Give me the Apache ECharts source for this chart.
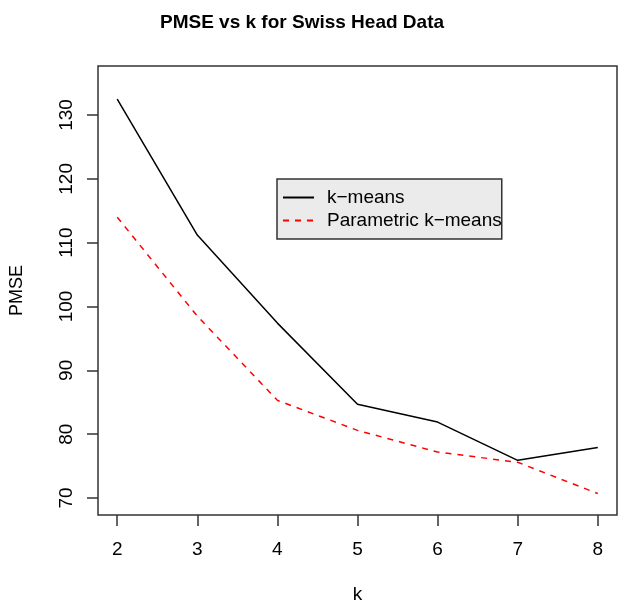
<!DOCTYPE html>
<html>
<head>
<meta charset="utf-8">
<script src="https://cdn.jsdelivr.net/npm/echarts@6/dist/echarts.min.js"></script>
<style>html,body{margin:0;padding:0;background:#fff}#c{width:629px;height:610px}</style>
</head>
<body>
<div id="c"></div>
<script>
const kValues = [2, 3, 4, 5, 6, 7, 8];
const kmeans = [132.5, 111.2, 97.4, 84.7, 81.9, 75.9, 77.9];
const parametric = [114.0, 98.5, 85.3, 80.6, 77.2, 75.6, 70.7];
const xTicks = [2, 3, 4, 5, 6, 7, 8];
const yTicks = [70, 80, 90, 100, 110, 120, 130];

const FONT = '"Liberation Sans", Arial, Helvetica, sans-serif';
const chart = echarts.init(document.getElementById('c'));
chart.setOption({
  animation: false,
  title: {
    text: 'PMSE vs k for Swiss Head Data',
    left: 297, top: 8, textAlign: 'center',
    textStyle: {fontFamily: FONT, fontWeight: 'bold', fontSize: 19, color: '#000'}
  },
  legend: {
    orient: 'vertical', left: 277, top: 179,
    padding: [9, 0, 9, 5], itemGap: 4, itemWidth: 31, itemHeight: 17,
    backgroundColor: '#ebebeb', borderColor: '#333', borderWidth: 1.5,
    itemStyle: {opacity: 0},
    textStyle: {fontFamily: FONT, fontSize: 19, color: '#000', padding: [0, 0, 0, 8]},
    data: ['k−means', 'Parametric k−means']
  },
  grid: {left: 98, top: 66, right: 12, bottom: 95, show: true, borderColor: '#333', borderWidth: 1.5},
  xAxis: {
    type: 'value', min: 1.76, max: 8.24,
    name: 'k', nameLocation: 'middle', nameGap: 70,
    nameTextStyle: {fontFamily: FONT, fontSize: 19, color: '#000'},
    axisLine: {show: false},
    splitLine: {show: false},
    axisTick: {show: true, length: 11, lineStyle: {color: '#333', width: 1.5}, customValues: xTicks},
    axisLabel: {fontFamily: FONT, fontSize: 19, color: '#000', margin: 25, customValues: xTicks}
  },
  yAxis: {
    type: 'value', min: 67.34, max: 137.68,
    name: 'PMSE', nameLocation: 'middle', nameGap: 72,
    nameTextStyle: {fontFamily: FONT, fontSize: 18, color: '#000'},
    axisLine: {show: false},
    splitLine: {show: false},
    axisTick: {show: true, length: 11, lineStyle: {color: '#333', width: 1.5}, customValues: yTicks},
    axisLabel: {fontFamily: FONT, fontSize: 19, color: '#000', margin: 22, rotate: 90, customValues: yTicks}
  },
  series: [
    {
      name: 'k−means', type: 'line', symbol: 'none', showSymbol: false,
      data: kValues.map((k, i) => [k, kmeans[i]]),
      lineStyle: {color: '#000', width: 1.5}, itemStyle: {color: '#000'}
    },
    {
      name: 'Parametric k−means', type: 'line', symbol: 'none', showSymbol: false,
      data: kValues.map((k, i) => [k, parametric[i]]),
      lineStyle: {color: '#ff0000', width: 1.5, type: [6, 6]}, itemStyle: {color: '#ff0000'}
    }
  ]
});
</script>
</body>
</html>
